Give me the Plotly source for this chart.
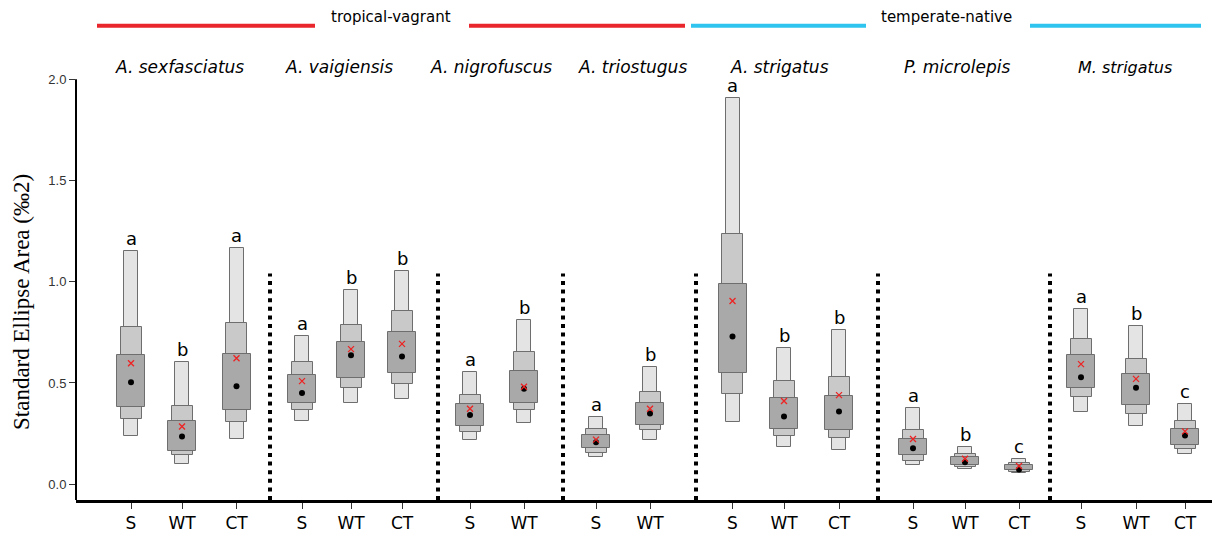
import plotly.graph_objects as go

# ---------------- data ----------------
species = ["A. sexfasciatus", "A. vaigiensis", "A. nigrofuscus", "A. triostugus",
           "A. strigatus", "P. microlepis", "M. strigatus"]
species_n = [3, 3, 2, 2, 3, 3, 3]
guilds = ["tropical-vagrant", "temperate-native"]

seasons = ["S", "WT", "CT", "S", "WT", "CT", "S", "WT", "S", "WT",
           "S", "WT", "CT", "S", "WT", "CT", "S", "WT", "CT"]
ci95_hi = [1.154, 0.603, 1.165, 0.733, 0.957, 1.051, 0.553, 0.813, 0.331, 0.577,
           1.907, 0.671, 0.761, 0.375, 0.183, 0.126, 0.867, 0.781, 0.395]
ci75_hi = [0.778, 0.386, 0.794, 0.601, 0.786, 0.856, 0.442, 0.654, 0.272, 0.455,
           1.237, 0.509, 0.530, 0.267, 0.150, 0.106, 0.716, 0.618, 0.310]
ci50_hi = [0.636, 0.310, 0.644, 0.538, 0.704, 0.753, 0.394, 0.557, 0.243, 0.399,
           0.989, 0.427, 0.438, 0.223, 0.134, 0.096, 0.636, 0.545, 0.272]
ci50_lo = [0.381, 0.166, 0.367, 0.399, 0.523, 0.549, 0.285, 0.399, 0.178, 0.292,
           0.549, 0.275, 0.266, 0.142, 0.096, 0.068, 0.473, 0.391, 0.196]
ci75_lo = [0.323, 0.142, 0.305, 0.367, 0.476, 0.497, 0.256, 0.365, 0.156, 0.266,
           0.443, 0.240, 0.227, 0.117, 0.085, 0.060, 0.430, 0.349, 0.175]
ci95_lo = [0.240, 0.101, 0.223, 0.313, 0.403, 0.419, 0.220, 0.302, 0.134, 0.219,
           0.305, 0.183, 0.171, 0.093, 0.073, 0.054, 0.359, 0.285, 0.150]
mode_vals = [0.504, 0.236, 0.484, 0.450, 0.637, 0.631, 0.342, 0.471, 0.207, 0.349,
             0.729, 0.334, 0.359, 0.178, 0.109, 0.073, 0.528, 0.476, 0.240]
seac_vals = [0.597, 0.285, 0.622, 0.509, 0.667, 0.693, 0.373, 0.481, 0.220, 0.373,
             0.905, 0.411, 0.440, 0.223, 0.126, 0.090, 0.593, 0.520, 0.261]
letters = ["a", "b", "a", "a", "b", "b", "a", "b", "a", "b",
           "a", "b", "b", "a", "b", "c", "a", "b", "c"]

# ---------------- layout helpers (axis units) ----------------
slot_x = [131, 182, 236.5, 302, 351, 402, 470, 524, 596, 650,
          732.5, 784, 839, 913, 965, 1019, 1081, 1136, 1185]
sep_x = [270, 438, 563, 696, 878, 1050]
species_label_x = [179, 339, 491, 632, 779, 957, 1125]
X_RANGE = [76, 1212]
Y_RANGE = [-0.078, 2.391]
PLOT_H = 505

def paper_y(px):
    return 1 - px / PLOT_H

fig = go.Figure()

box_specs = [
    (ci95_lo, ci95_hi, 14, "#e4e4e4"),
    (ci75_lo, ci75_hi, 21, "#c9c9c9"),
    (ci50_lo, ci50_hi, 28, "#a9a9a9"),
]
for lo, hi, w, col in box_specs:
    fig.add_trace(go.Bar(
        x=slot_x, y=[h - l for h, l in zip(hi, lo)], base=lo, width=w,
        marker=dict(color=col, line=dict(color="#6e6e6e", width=1)),
        showlegend=False, hoverinfo="skip"))

fig.add_trace(go.Scatter(
    x=slot_x, y=mode_vals, mode="markers",
    marker=dict(symbol="circle", size=6, color="black"),
    showlegend=False, hoverinfo="skip"))
fig.add_trace(go.Scatter(
    x=slot_x, y=seac_vals, mode="markers",
    marker=dict(symbol="x-thin", size=6, color="#ee2222",
                line=dict(color="#ee2222", width=1.3)),
    showlegend=False, hoverinfo="skip"))

annotations = []
for xv, yv, t in zip(slot_x, ci95_hi, letters):
    annotations.append(dict(x=xv, y=yv, xref="x", yref="y", text=t, showarrow=False,
                            yanchor="bottom", yshift=0,
                            font=dict(family="DejaVu Sans", size=18, color="black")))

for i, (name, xv) in enumerate(zip(species, species_label_x)):
    annotations.append(dict(x=xv, y=paper_y(68), xref="x", yref="paper", text=f"<i>{name}</i>",
                            showarrow=False, yanchor="middle",
                            font=dict(family="DejaVu Sans", size=16 if i == 6 else 17, color="black")))

guild_text_x = [391, 946]
for name, xv in zip(guilds, guild_text_x):
    annotations.append(dict(x=xv, y=paper_y(17), xref="x", yref="paper", text=name,
                            showarrow=False, yanchor="middle",
                            font=dict(family="DejaVu Sans", size=15, color="black")))

annotations.append(dict(x=(22 - 76) / (X_RANGE[1] - X_RANGE[0]), y=paper_y(305),
                        xref="paper", yref="paper", text="Standard Ellipse Area (‰2)",
                        showarrow=False, textangle=-90, xanchor="center", yanchor="middle",
                        font=dict(family="Liberation Serif", size=23, color="black")))

shapes = []
for sx in sep_x:
    shapes.append(dict(type="line", xref="x", yref="y", x0=sx, x1=sx, y0=Y_RANGE[0], y1=1.04,
                       line=dict(color="black", width=4, dash="4px,4.6px")))
# y-axis line from 2.0 down
shapes.append(dict(type="line", xref="paper", yref="y", x0=0, x1=0, y0=Y_RANGE[0], y1=2.0,
                   line=dict(color="black", width=2)))
# guild header lines
guild_lines = [(97, 315, "#e8262b"), (469, 685, "#e8262b"),
               (691, 866, "#2ec4ef"), (1030, 1201, "#2ec4ef")]
for x0, x1, c in guild_lines:
    shapes.append(dict(type="line", xref="x", yref="paper", x0=x0, x1=x1,
                       y0=paper_y(26), y1=paper_y(26), line=dict(color=c, width=4)))

fig.update_layout(
    width=1216, height=533,
    margin=dict(l=76, r=4, t=0, b=28),
    paper_bgcolor="white", plot_bgcolor="white",
    barmode="overlay", bargap=0,
    annotations=annotations, shapes=shapes,
    xaxis=dict(range=X_RANGE, tickmode="array", tickvals=slot_x, ticktext=seasons,
               showgrid=False, zeroline=False, showline=True, linecolor="black", linewidth=2.5,
               ticks="outside", ticklen=6, tickwidth=1, tickcolor="#333",
               tickfont=dict(family="DejaVu Sans", size=17, color="black")),
    yaxis=dict(range=Y_RANGE, tickmode="array", tickvals=[0, 0.5, 1.0, 1.5, 2.0],
               ticktext=["0.0", "0.5", "1.0", "1.5", "2.0"],
               showgrid=False, zeroline=False, showline=False,
               ticks="outside", ticklen=6, tickwidth=1, tickcolor="#333",
               tickfont=dict(family="Liberation Sans", size=13, color="#333")),
)

fig.write_html("out.html")
